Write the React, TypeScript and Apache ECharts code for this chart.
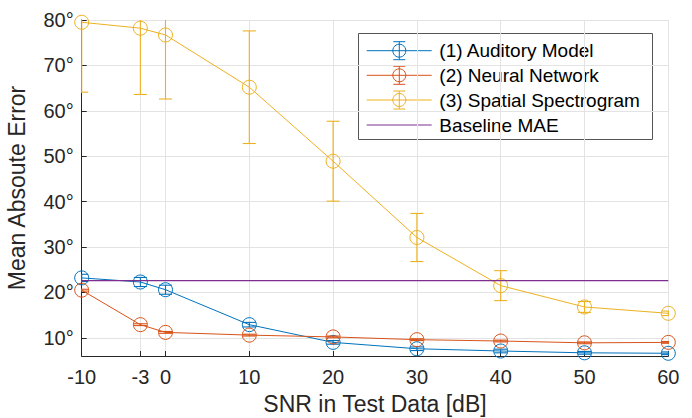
import React, { useEffect, useRef } from "react";
import * as echarts from "echarts";

const snr = [-10, -3, 0, 10, 20, 30, 40, 50, 60];
const xTicks = [-10, -3, 0, 10, 20, 30, 40, 50, 60];
const yTicks = [10, 20, 30, 40, 50, 60, 70, 80];
const auditory = [23.2, 22.3, 20.6, 12.9, 9.0, 7.6, 7.1, 6.7, 6.6];
const auditoryErr = [0.8, 1.0, 1.0, 0.5, 0.4, 0.4, 0.4, 0.3, 0.3];
const neural = [20.5, 12.9, 11.2, 10.6, 10.2, 9.6, 9.3, 8.9, 9.0];
const neuralErr = [0.2, 0.2, 0.2, 0.2, 0.2, 0.2, 0.2, 0.2, 0.2];
const spatial = [79.5, 78.2, 76.7, 65.2, 48.9, 32.1, 21.5, 16.8, 15.4];
const spatialErr = [15.4, 14.6, 14.1, 12.4, 8.8, 5.3, 3.3, 1.2, 0.5];
const baselineMAE = 22.6;
const seriesNames = [
  "(1) Auditory Model",
  "(2) Neural Network",
  "(3) Spatial Spectrogram",
  "Baseline MAE",
];
const colors = ["#0072BD", "#D95319", "#EDB120", "#7E2F8E"];

const FONT = "Liberation Sans, Arial, Helvetica, sans-serif";
const AX = "#262626";

function errSeries(name: string, vals: number[], errs: number[], color: string, z: number) {
  return {
    type: "custom",
    name,
    clip: true,
    z,
    silent: true,
    data: snr.map((x, i) => [x, vals[i] - errs[i], vals[i] + errs[i]]),
    renderItem: (_p: any, api: any) => {
      const lo = api.coord([api.value(0), api.value(1)]);
      const hi = api.coord([api.value(0), api.value(2)]);
      const w = 6.5;
      const st = { stroke: color, lineWidth: 1.1 };
      return {
        type: "group",
        children: [
          { type: "line", shape: { x1: lo[0], y1: lo[1], x2: hi[0], y2: hi[1] }, style: st },
          { type: "line", shape: { x1: lo[0] - w, y1: lo[1], x2: lo[0] + w, y2: lo[1] }, style: st },
          { type: "line", shape: { x1: hi[0] - w, y1: hi[1], x2: hi[0] + w, y2: hi[1] }, style: st },
        ],
      };
    },
  };
}

function lineSeries(name: string, vals: number[], color: string, z: number) {
  return {
    type: "line",
    name,
    z,
    clip: false,
    data: snr.map((x, i) => [x, vals[i]]),
    symbol: "circle",
    symbolSize: 14,
    showSymbol: true,
    lineStyle: { color, width: 1 },
    itemStyle: { color: "rgba(0,0,0,0)", borderColor: color, borderWidth: 1 },
  };
}

function legendGraphic() {
  const x0 = 358.5;
  const y0 = 33.5;
  const rows = [50.7, 75.3, 100, 125];
  const children: any[] = [
    {
      type: "rect",
      shape: { x: x0, y: y0, width: 294, height: 106 },
      style: { fill: "#fff", stroke: "#555", lineWidth: 1 },
    },
  ];
  rows.forEach((ry, i) => {
    const c = colors[i];
    children.push({
      type: "line",
      shape: { x1: 366.7, y1: ry, x2: 431.7, y2: ry },
      style: { stroke: c, lineWidth: 1 },
    });
    if (i < 3) {
      children.push({
        type: "circle",
        shape: { cx: 399.3, cy: ry, r: 6.5 },
        style: { fill: "none", stroke: c, lineWidth: 1 },
      });
      children.push({
        type: "line",
        shape: { x1: 399.3, y1: ry - 9, x2: 399.3, y2: ry + 9 },
        style: { stroke: c, lineWidth: 1 },
      });
      children.push({
        type: "line",
        shape: { x1: 393.3, y1: ry - 9, x2: 405.3, y2: ry - 9 },
        style: { stroke: c, lineWidth: 1 },
      });
      children.push({
        type: "line",
        shape: { x1: 393.3, y1: ry + 9, x2: 405.3, y2: ry + 9 },
        style: { stroke: c, lineWidth: 1 },
      });
    }
    children.push({
      type: "text",
      x: 439.3,
      y: ry,
      style: {
        text: seriesNames[i],
        fill: "#000",
        font: `19px ${FONT}`,
        textVerticalAlign: "middle",
        textAlign: "left",
      },
    });
  });
  return { type: "group", z: 100, children };
}

export default function App() {
  const ref = useRef<HTMLDivElement>(null);
  useEffect(() => {
    if (!ref.current) return;
    const chart = echarts.init(ref.current, undefined, { renderer: "svg" });
    chart.setOption({
      animation: false,
      backgroundColor: "#fff",
      textStyle: { fontFamily: FONT },
      grid: {
        left: 81.7,
        right: 23.7,
        top: 20,
        bottom: 62,
        containLabel: false,
        outerBoundsMode: "none",
      },
      xAxis: {
        type: "value",
        min: -10,
        max: 60,
        name: "SNR in Test Data [dB]",
        nameLocation: "middle",
        nameGap: 36,
        nameTextStyle: { fontSize: 23, color: AX, fontFamily: FONT },
        axisLine: { show: true, onZero: false, lineStyle: { color: AX, width: 1 } },
        axisTick: { show: true, inside: true, length: 5, customValues: xTicks, lineStyle: { color: AX } },
        axisLabel: { customValues: xTicks, fontSize: 20, color: AX, margin: 11, fontFamily: FONT },
        splitLine: { show: true, lineStyle: { color: "#e3e3e3", width: 1 } },
      },
      yAxis: {
        type: "value",
        min: 6,
        max: 80,
        name: "Mean Absoute Error",
        nameLocation: "middle",
        nameGap: 53,
        nameTextStyle: { fontSize: 23, color: AX, fontFamily: FONT },
        axisLine: { show: true, onZero: false, lineStyle: { color: AX, width: 1 } },
        axisTick: { show: true, inside: true, length: 5, customValues: yTicks, lineStyle: { color: AX } },
        axisLabel: {
          customValues: yTicks,
          fontSize: 20,
          color: AX,
          margin: 8,
          fontFamily: FONT,
          formatter: (v: number) => `${v}°`,
        },
        splitLine: { show: true, lineStyle: { color: "#e3e3e3", width: 1 } },
      },
      series: [
        errSeries("e1", auditory, auditoryErr, colors[0], 3),
        lineSeries(seriesNames[0], auditory, colors[0], 3),
        errSeries("e2", neural, neuralErr, colors[1], 4),
        lineSeries(seriesNames[1], neural, colors[1], 4),
        errSeries("e3", spatial, spatialErr, colors[2], 5),
        lineSeries(seriesNames[2], spatial, colors[2], 5),
        {
          type: "line",
          name: seriesNames[3],
          z: 6,
          data: [
            [-10, baselineMAE],
            [60, baselineMAE],
          ],
          symbol: "none",
          lineStyle: { color: colors[3], width: 1.2 },
        },
      ],
      graphic: [legendGraphic()],
    });
    return () => chart.dispose();
  }, []);
  return (
    <div
      ref={ref}
      style={{ position: "fixed", left: 0, top: 0, width: 692, height: 418 }}
    />
  );
}
